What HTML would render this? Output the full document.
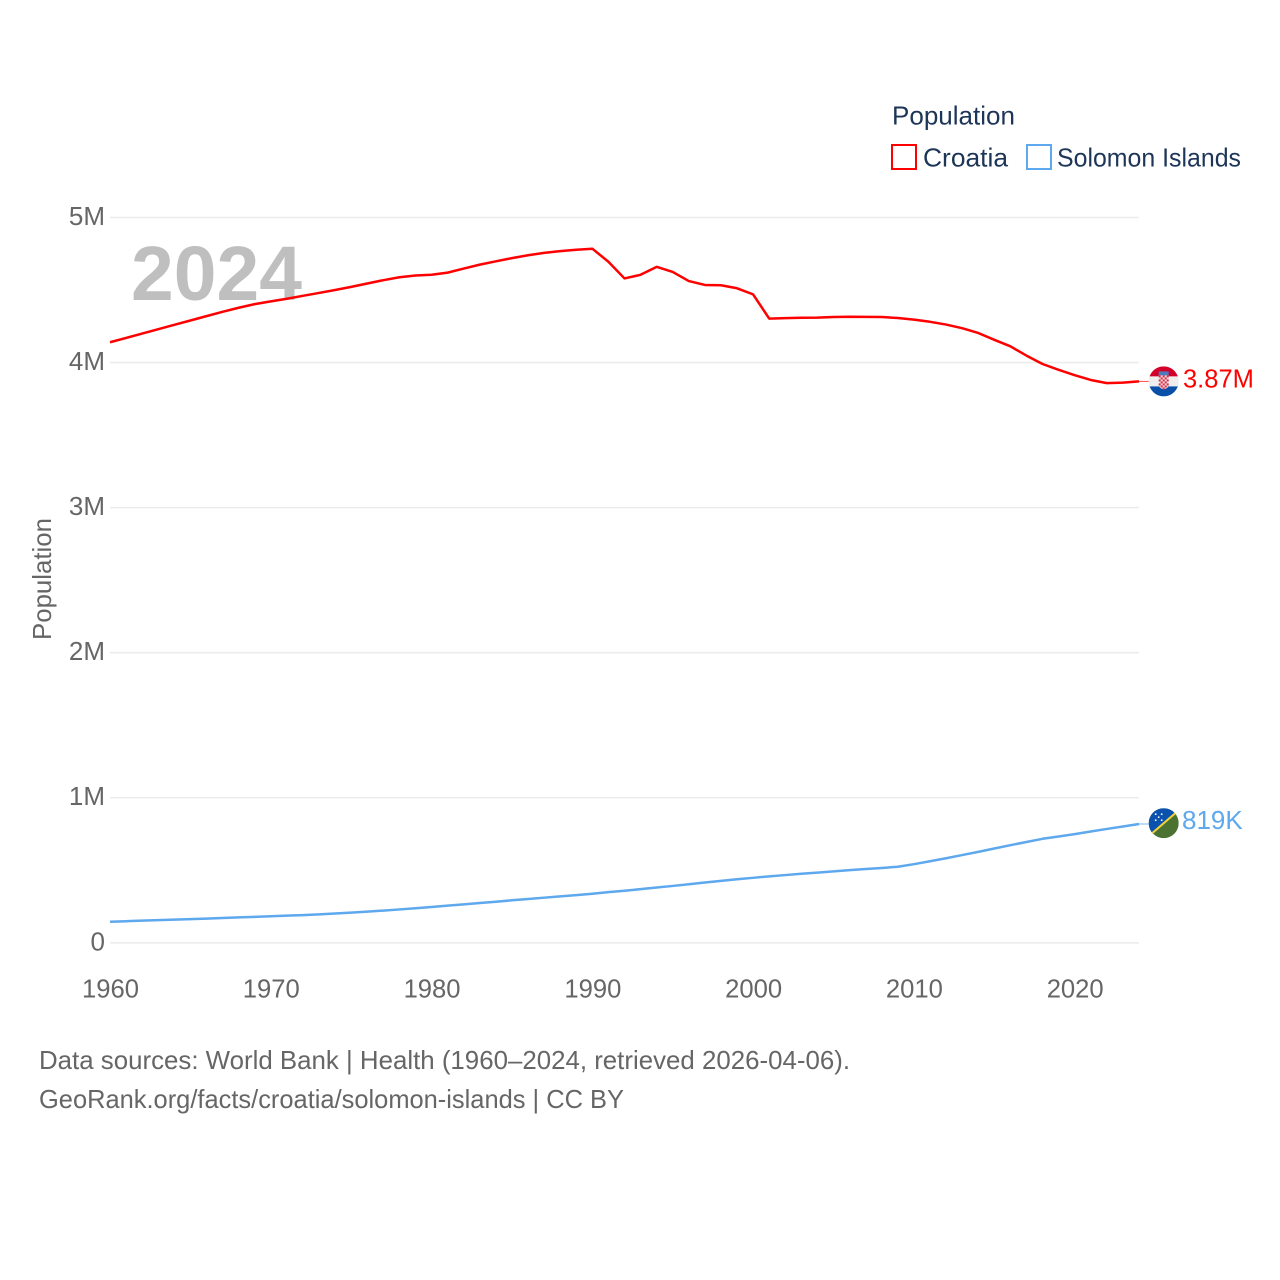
<!DOCTYPE html>
<html lang="en">
<head>
<meta charset="utf-8">
<title>Population: Croatia and Solomon Islands</title>
<style>
html,body{margin:0;padding:0;background:#fff;}
svg{display:block;font-family:"Liberation Sans",sans-serif;}
</style>
</head>
<body>
<svg id="chart" xmlns="http://www.w3.org/2000/svg" width="1280" height="1280" viewBox="0 0 1280 1280">
  <defs>
    <clipPath id="flag-clip-hr"><circle cx="0" cy="0" r="15"></circle></clipPath>
    <clipPath id="flag-clip-sb"><circle cx="0" cy="0" r="15"></circle></clipPath>
  </defs>
  <rect x="0" y="0" width="1280" height="1280" fill="#ffffff"></rect>
  <g id="grid"></g>
  <g id="y-ticks"></g>
  <g id="x-ticks"></g>
  <text transform="translate(51,579) rotate(-90)" text-anchor="middle" font-size="26" fill="#666666" textLength="122" lengthAdjust="spacingAndGlyphs">Population</text>
  <text x="131" y="300" font-size="77" font-weight="700" fill="#bfbfbf" textLength="171" lengthAdjust="spacingAndGlyphs">2024</text>
  <g id="series"></g>

  <g>
    <text x="892" y="124.5" font-size="26" fill="#1d3557" textLength="123" lengthAdjust="spacingAndGlyphs">Population</text>
    <rect x="892" y="145" width="24" height="24" fill="#ffffff" stroke="#ff0000" stroke-width="2"></rect>
    <text x="923" y="166.5" font-size="26" fill="#1d3557" textLength="85" lengthAdjust="spacingAndGlyphs">Croatia</text>
    <rect x="1027" y="145" width="24" height="24" fill="#ffffff" stroke="#5ea8ee" stroke-width="2"></rect>
    <text x="1057" y="166.5" font-size="26" fill="#1d3557" textLength="184" lengthAdjust="spacingAndGlyphs">Solomon Islands</text>
  </g>

  <g>
    <text x="39" y="1069" font-size="26" fill="#666666" textLength="811" lengthAdjust="spacingAndGlyphs">Data sources: World Bank | Health (1960–2024, retrieved 2026-04-06).</text>
    <text x="39" y="1108" font-size="26" fill="#666666" textLength="585" lengthAdjust="spacingAndGlyphs">GeoRank.org/facts/croatia/solomon-islands | CC BY</text>
  </g>
</svg>

<script>
const years = [1960,1961,1962,1963,1964,1965,1966,1967,1968,1969,1970,1971,1972,1973,1974,1975,1976,1977,1978,1979,1980,1981,1982,1983,1984,1985,1986,1987,1988,1989,1990,1991,1992,1993,1994,1995,1996,1997,1998,1999,2000,2001,2002,2003,2004,2005,2006,2007,2008,2009,2010,2011,2012,2013,2014,2015,2016,2017,2018,2019,2020,2021,2022,2023,2024];
const croatiaValues = [4140000,4170000,4200000,4230000,4260000,4290000,4320000,4350000,4378000,4403000,4422000,4440000,4460000,4480000,4500000,4522000,4545000,4568000,4588000,4600000,4605000,4620000,4648000,4675000,4698000,4720000,4740000,4756000,4768000,4778000,4785000,4695000,4580000,4605000,4660000,4625000,4562000,4535000,4533000,4512000,4470000,4303000,4306000,4309000,4310000,4314000,4316000,4315000,4314000,4307000,4296000,4281000,4262000,4237000,4204000,4157000,4112000,4048000,3990000,3950000,3913000,3880000,3858000,3862000,3870000];
const solomonValues = [145000,149000,153000,156000,160000,163000,167000,171000,175000,179000,183000,187000,191000,196000,202000,208000,215000,222000,230000,238000,247000,256000,265000,274000,283000,293000,302000,311000,320000,329000,338000,349000,359000,370000,381000,392000,404000,416000,427000,438000,448000,458000,467000,476000,484000,492000,501000,509000,516000,524000,542000,562000,583000,605000,627000,650000,673000,695000,717000,733000,749000,767000,785000,802000,819000];
const yTickValues = [0,1000000,2000000,3000000,4000000,5000000];
const yTickLabels = ["0","1M","2M","3M","4M","5M"];
const xTickValues = [1960,1970,1980,1990,2000,2010,2020];
const xTickLabels = ["1960","1970","1980","1990","2000","2010","2020"];
const croatiaEndLabel = "3.87M";
const solomonEndLabel = "819K";

const SVGNS = "http://www.w3.org/2000/svg";
const plot = {left:110, right:1139, top:217.5, bottom:942.8, xMin:1960, xMax:2024, yMin:0, yMax:5000000};
function xScale(v){ return plot.left + (v - plot.xMin) / (plot.xMax - plot.xMin) * (plot.right - plot.left); }
function yScale(v){ return plot.bottom - (v - plot.yMin) / (plot.yMax - plot.yMin) * (plot.bottom - plot.top); }
function make(tag, attrs, parent, text){
  const el = document.createElementNS(SVGNS, tag);
  for (const k in attrs) el.setAttribute(k, attrs[k]);
  if (text !== undefined) el.textContent = text;
  parent.appendChild(el);
  return el;
}

const gridG = document.getElementById('grid');
const yG = document.getElementById('y-ticks');
yTickValues.forEach(function(v, i){
  const y = yScale(v);
  const line = make('line', {x1:plot.left, x2:plot.right, y1:y, y2:y, stroke:'#ececec', 'stroke-width':1.6}, gridG);
  
  
  const t = make('text', {x:105, y:y + 7.5, 'text-anchor':'end', 'font-size':26, fill:'#666666'}, yG, yTickLabels[i]);
  
  
});

const xG = document.getElementById('x-ticks');
xTickValues.forEach(function(v, i){
  const t = make('text', {x:xScale(v) + 0.5, y:997.5, 'text-anchor':'middle', 'font-size':26, fill:'#666666', textLength:57, lengthAdjust:'spacingAndGlyphs'}, xG, xTickLabels[i]);
  
  
});

function linePath(values){
  return values.map(function(v, i){ return (i ? 'L' : 'M') + xScale(years[i]).toFixed(2) + ' ' + yScale(v).toFixed(2); }).join(' ');
}

const seriesG = document.getElementById('series');

const croatiaLine = make('path', {d:linePath(croatiaValues), fill:'none', stroke:'#ff0000', 'stroke-width':2.5, 'stroke-linejoin':'round'}, seriesG);



const solomonLine = make('path', {d:linePath(solomonValues), fill:'none', stroke:'#5ea8ee', 'stroke-width':2.5, 'stroke-linejoin':'round'}, seriesG);



const lastX = xScale(years[years.length - 1]);
const flagX = 1163.7;

const hrY = yScale(croatiaValues[croatiaValues.length - 1]);
const hrConnector = make('line', {x1:lastX, x2:flagX - 15, y1:hrY, y2:hrY, stroke:'#ff0000', 'stroke-width':1, opacity:0.7}, seriesG);



const hrFlag = make('g', {transform:'translate(' + flagX + ',' + hrY + ')', 'clip-path':'url(#flag-clip-hr)'}, seriesG);


make('rect', {x:-15, y:-15, width:30, height:10, fill:'#d4002a'}, hrFlag);
make('rect', {x:-15, y:-5, width:30, height:10, fill:'#eeeeee'}, hrFlag);
make('rect', {x:-15, y:5, width:30, height:10, fill:'#0a4fa8'}, hrFlag);
make('rect', {x:-5, y:-10, width:10, height:4, fill:'#4a7bbd'}, hrFlag);
make('path', {d:'M-5 -6 H5 V3 Q5 7 0 8 Q-5 7 -5 3 Z', fill:'#f6d9dc'}, hrFlag);
[[-5,-6],[-1,-6],[3,-6],[-3,-4],[1,-4],[-5,-2],[-1,-2],[3,-2],[-3,0],[1,0],[-5,2],[-1,2],[3,2],[-3,4],[1,4],[-1,6]].forEach(function(c){
  make('rect', {x:c[0], y:c[1], width:2, height:2, fill:'#d4324a'}, hrFlag);
});

const hrLabel = make('text', {x:1183, y:hrY + 6, 'font-size':25.5, fill:'#ff0000'}, seriesG, croatiaEndLabel);



const sbY = yScale(solomonValues[solomonValues.length - 1]);
const sbConnector = make('line', {x1:lastX, x2:flagX - 15, y1:sbY, y2:sbY, stroke:'#5ea8ee', 'stroke-width':1, opacity:0.8}, seriesG);



const sbFlag = make('g', {transform:'translate(' + flagX + ',' + (sbY - 0.8) + ')', 'clip-path':'url(#flag-clip-sb)'}, seriesG);


make('rect', {x:-15, y:-15, width:30, height:30, fill:'#4c7232'}, sbFlag);
make('path', {d:'M-15 -15 H15 L-15 15 Z', fill:'#0a52ad'}, sbFlag);
make('line', {x1:-15, y1:13, x2:15, y2:-13, stroke:'#f2d43a', 'stroke-width':2}, sbFlag);
[[-8,-9],[-2,-9],[-5,-6],[-8,-3],[-2,-3]].forEach(function(c){
  make('circle', {cx:c[0], cy:c[1], r:0.9, fill:'#ffffff'}, sbFlag);
});

const sbLabel = make('text', {x:1182, y:sbY + 5, 'font-size':26, fill:'#5ea8ee'}, seriesG, solomonEndLabel);


</script>
</body>
</html>
